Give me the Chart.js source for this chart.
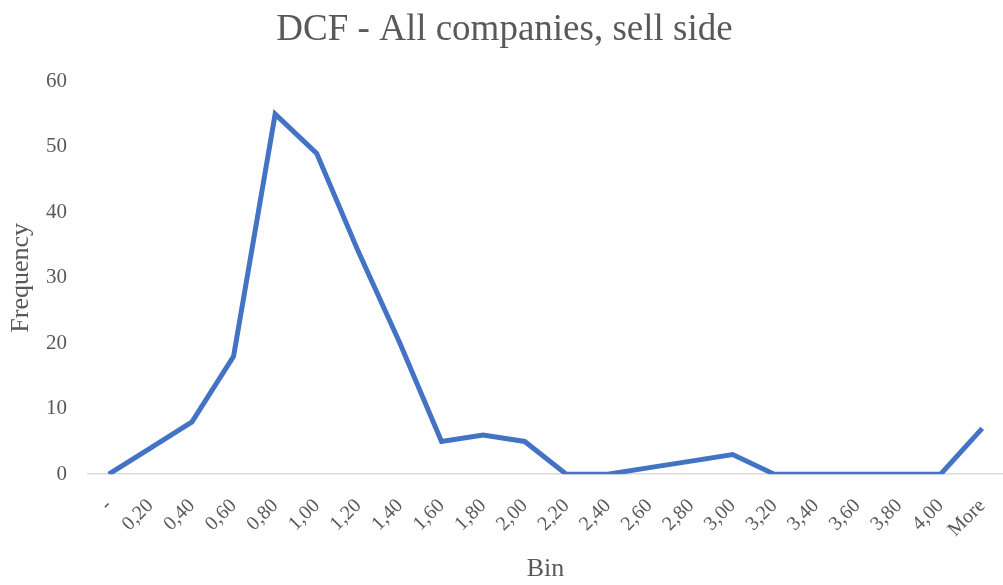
<!DOCTYPE html>
<html lang="en">
<head>
    <meta charset="UTF-8">
    <script src="https://cdn.jsdelivr.net/npm/chart.js@4.4.0/dist/chart.umd.min.js"></script>
    <title>DCF - All companies, sell side</title>
    <style>
        html, body { margin: 0; padding: 0; background: #fff; }
        .chart__box { width: 1003px; height: 585px; }
    </style>
</head>
<body>
    <div class="chart__box">
        <canvas id="dcfChart"></canvas>
    </div>
    <script>
        // bins and counts
        const binLabels = ["-", "0,20", "0,40", "0,60", "0,80", "1,00", "1,20", "1,40", "1,60", "1,80", "2,00",
            "2,20", "2,40", "2,60", "2,80", "3,00", "3,20", "3,40", "3,60", "3,80", "4,00", "More"];
        const frequency = [0, 4, 8, 18, 55, 49, 34, 20, 5, 6, 5, 0, 0, 1, 2, 3, 0, 0, 0, 0, 0, 7];
        const yTicks = [0, 10, 20, 30, 40, 50, 60];

        const textGrey = "#595959";
        const serif = "'Liberation Serif', 'Times New Roman', serif";

        new Chart("dcfChart", {
            type: "line",
            data: {
                labels: binLabels,
                datasets: [{
                    label: "Frequency",
                    data: frequency,
                    borderColor: "#4472c4",
                    borderWidth: 5,
                    pointRadius: 0,
                    tension: 0,
                    fill: false
                }]
            },
            options: {
                responsive: true,
                maintainAspectRatio: false,
                animation: false,
                layout: {
                    padding: { top: 0, right: 0, left: 6, bottom: 0 }
                },
                plugins: {
                    legend: { display: false },
                    tooltip: { enabled: false },
                    title: {
                        display: true,
                        text: "DCF - All companies, sell side",
                        color: textGrey,
                        font: { family: serif, size: 37, weight: "normal" },
                        padding: { top: 8, bottom: 29 }
                    }
                },
                scales: {
                    x: {
                        offset: true,
                        grid: { display: false },
                        border: { color: "#d9d9d9", width: 1.5 },
                        afterFit: (axis) => {
                            // keep the rotated first/last labels from squeezing the plot
                            axis.paddingLeft = 0;
                            axis.paddingRight = 0;
                        },
                        ticks: {
                            color: textGrey,
                            font: { family: serif, size: 20 },
                            minRotation: 45,
                            maxRotation: 45,
                            autoSkip: false,
                            padding: 12
                        },
                        title: {
                            display: true,
                            text: "Bin",
                            color: textGrey,
                            font: { family: serif, size: 26 },
                            padding: { top: 0, bottom: 0 }
                        }
                    },
                    y: {
                        min: 0,
                        max: 60,
                        afterBuildTicks: (axis) => {
                            axis.ticks = yTicks.map(v => ({ value: v }));
                        },
                        afterFit: (axis) => {
                            axis.width = 82;
                        },
                        grid: { display: false },
                        border: { display: false },
                        ticks: {
                            color: textGrey,
                            font: { family: serif, size: 21 },
                            padding: 13
                        },
                        title: {
                            display: true,
                            text: "Frequency",
                            color: textGrey,
                            font: { family: serif, size: 26 },
                            padding: { top: 0, bottom: 8 }
                        }
                    }
                }
            }
        });
    </script>
</body>
</html>
